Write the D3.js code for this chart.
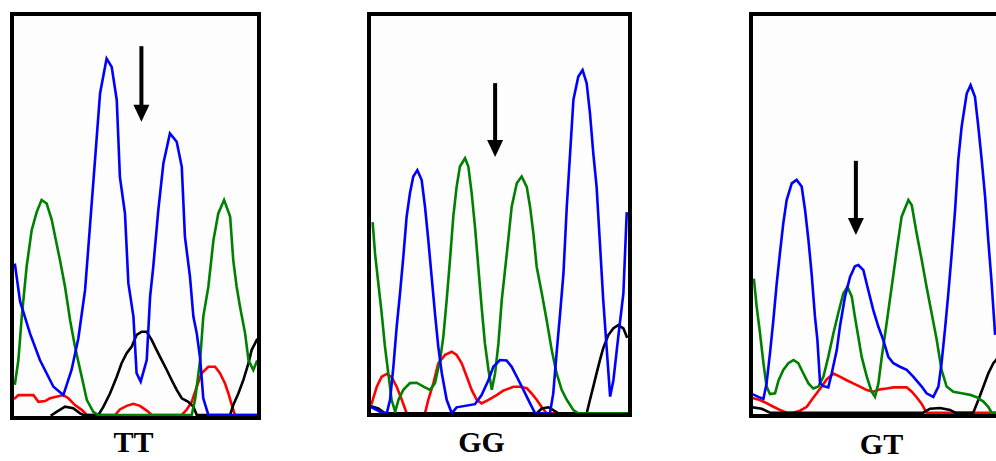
<!DOCTYPE html>
<html><head><meta charset="utf-8">
<script src="https://cdn.jsdelivr.net/npm/d3@7"></script>
<style>body{margin:0;background:#fff}svg{display:block}</style>
</head><body>
<svg id="c" width="996" height="461"></svg>
<script>
// ---- data: trace points as [scan %, signal %] ----
const genotypes = ["TT", "GG", "GT"];

const ttBlue = [[0,37.7],[2.1,28.5],[6.2,20.5],[10.3,13.8],[15.9,7.1],[20,5],[23.4,11.3],[26.2,19.2],[29,31.4],[31,47.3],[33.1,64],[35.2,80.8],[37.9,89.5],[40,87.4],[42.1,79.1],[43.4,59.8],[45.5,50.6],[46.9,33.1],[49,24.7],[50.3,10.5],[52,8.4],[54.5,13.8],[55.9,29.7],[57.2,37.2],[59.3,51.5],[61.4,63.2],[64.1,70.7],[66.9,68.6],[69,62.3],[70.3,44.8],[72.4,34.7],[73.8,24.7],[75.2,20.5],[76.6,14.2],[77.9,4.2],[80,0],[100,0]];
const ttGreen = [[0,7.9],[1.4,13.8],[2.8,24.7],[4.8,37.2],[6.9,46.4],[9,51],[11,54],[13.1,53.1],[15.2,49],[16.6,44.8],[18.6,38.9],[20.7,32.2],[22.8,23.8],[24.8,17.2],[27.6,9.6],[29.7,3.8],[32.4,0.8],[34.5,0],[73.1,0],[74.5,3.8],[76.6,13.8],[77.9,24.7],[80,32.2],[82.1,43.9],[84.1,50.6],[86.5,54],[89,49.8],[90.3,38.9],[91.7,32.2],[93.1,27.2],[95.2,20.5],[96.6,13.8],[98.6,11.3],[100,13.4]];
const ttBlack = [[15.2,0],[17.2,0.8],[20.7,2.1],[24.1,1.7],[26.9,0.4],[28.3,0],[34.5,0],[36.6,2.1],[39.3,5.4],[42.1,9.6],[44.1,13],[46.2,15.5],[48.3,17.2],[50.3,20.1],[52.4,20.9],[54.5,20.9],[56.6,18.8],[58.6,16.3],[60.7,13.8],[62.8,11.3],[64.8,8.8],[66.9,6.3],[69,4.2],[71.7,3.3],[73.8,2.1],[75.2,0],[89,0],[90.3,2.5],[92.4,5.4],[94.5,8.8],[96.6,13],[97.9,16.3],[100,18.8]];
const ttRed = [[0,4.2],[1.4,5],[7.6,5],[9.7,3.3],[12.4,3.5],[14.5,4.2],[20,5],[22.1,4.2],[24.8,2.5],[27.6,1.3],[29.7,0],[41.4,0],[43.4,1.4],[46.2,2.3],[49,2.8],[51.7,2.3],[54.5,1.1],[56.6,0],[69,0],[71,1.3],[73.1,3.3],[75.2,7.1],[77.2,10.5],[80,12.1],[82.8,12.1],[84.8,10.5],[86.9,7.9],[88.3,5.4],[89.7,2.5],[91,0],[100,0]];

const ggBlue = [[0,1.5],[3.3,0.4],[5.9,0],[7.2,3.4],[8.5,11.7],[9.8,21.8],[11.1,30.2],[12.4,39.4],[13.7,49.5],[15,55.4],[16.3,59.6],[17.9,61.2],[19.6,58.7],[20.9,52],[22.2,43.6],[23.5,34.4],[24.8,25.2],[26.1,16.8],[27.5,10.1],[29.4,3.4],[31.4,0],[33.3,1.5],[40.5,2.3],[43.1,4.6],[45.8,8.4],[47.7,11.7],[50.3,13.4],[52.9,13.3],[54.9,11.7],[56.9,9.2],[59.5,5.9],[62.1,2.5],[64.1,0],[69.9,0],[71.2,5],[72.5,15.1],[73.9,25.2],[75.2,35.2],[76.5,52],[77.8,65.4],[79.1,78.9],[81,84.7],[82.7,86.4],[84.3,83.1],[85.6,75.5],[86.9,65.4],[88.2,57],[89.5,42.8],[90.8,28.5],[92.2,15.9],[93.5,4.2],[94.8,8.4],[96.7,19.3],[98.7,30.2],[100,50.3]];
const ggGreen = [[0.4,47.8],[1.3,40.3],[2.6,32.7],[3.9,25.2],[5.2,16.8],[6.5,10.1],[7.8,3.4],[9.2,0.4],[10.5,3.4],[12.4,5.9],[15,7.6],[17.6,7.7],[20.3,6.7],[22.9,5.9],[24.8,7.6],[26.8,13.4],[28.1,19.3],[29.4,28.5],[30.7,38.6],[32,49.5],[33.3,57],[34.6,62.1],[36.6,64.2],[37.9,62.1],[39.2,55.4],[40.5,47],[41.8,36.9],[43.1,26.8],[44.4,17.6],[45.8,10.9],[47.1,5.9],[48.4,10.1],[49.7,17.6],[51,28.5],[53,40.3],[54.9,52],[56.9,57.9],[58.8,59.6],[60.8,57],[62.1,52],[63.4,45.3],[64.7,36.9],[66.7,30.2],[68.6,23.5],[70.6,15.9],[72.5,10.1],[74.5,5.9],[76.5,3.4],[79.1,0.8],[81,0],[100,0]];
const ggBlack = [[0,1.7],[2.6,1.2],[5.2,0],[64.7,0],[66.7,1.2],[69.3,1.5],[71.2,0.8],[73.2,0],[84.3,0],[85.6,3.4],[86.9,6.7],[88.2,10.1],[89.5,13.4],[90.8,16.4],[92.8,19.7],[94.8,21.4],[96.7,22.2],[98.7,21.4],[100,19.3]];
const ggRed = [[0,2.5],[2,6.7],[3.9,9.2],[5.9,9.9],[7.8,9.1],[9.8,6.7],[11.8,3.4],[13.7,0],[20.9,0],[22.2,3.4],[24.2,7.6],[26.1,12.6],[28.8,14.7],[31.4,15.5],[33.3,14.7],[35.3,12.6],[37.3,9.2],[39.2,5.9],[41.2,3.4],[43.1,2.5],[45.8,3.4],[49,4.6],[51.6,5.7],[55.6,6.7],[58.2,6.7],[60.8,6.3],[62.7,5],[64.7,3.4],[66.7,1.5],[68.6,0],[100,0]];

const gtBlue = [[0,4.5],[1.8,4],[3.9,3.5],[5.2,7.4],[6.6,15],[8,23.4],[9.4,32.7],[10.7,40.2],[12.1,47.8],[13.5,53.7],[15.6,57.9],[17.6,58.8],[19.7,57.1],[21.1,51.2],[22.5,43.6],[23.8,35.2],[25.2,24.2],[26.2,18.4],[27.3,7.4],[28.7,6.7],[30.7,6.4],[32.1,9.9],[34.2,15.8],[35.5,21.7],[37.6,29.3],[39.7,34.3],[41.7,37],[43.1,37.3],[45.2,36],[47.2,31],[49.3,25.9],[51.4,21.7],[53.4,18.4],[55.5,14.1],[57.6,12.5],[60.3,11.6],[63.1,10.8],[65.8,9.1],[69.3,6.6],[71.3,4.9],[74.1,4],[76.2,6.6],[77.5,12.5],[78.9,20.9],[80.3,30.1],[81.7,40.2],[83.1,51.2],[84.4,63.8],[85.8,72.2],[87.9,80.6],[89.5,82.7],[91.3,79.8],[92.7,72.2],[94.1,63.8],[95.5,54.5],[96.8,43.6],[98.2,32.7],[99.6,20]];
const gtGreen = [[0,33.5],[1.1,26.8],[2.5,20],[3.9,12.5],[5.2,6.6],[6.6,4.7],[8.7,4.9],[10.1,8.1],[12.1,10.8],[14.2,12.5],[16.3,13.3],[18.3,12.5],[20.4,9.9],[22.5,7.4],[24.5,6.1],[26.6,6.6],[28.7,9.1],[30.7,14.1],[32.8,20],[34.8,25.1],[36.9,30.1],[38.6,31.8],[40.4,29.3],[41.7,24.2],[43.1,19.2],[44.5,14.1],[46.6,9.1],[48.6,5.3],[50,4],[51.4,7.4],[52.8,14.1],[54.8,22.6],[56.9,31.8],[59,41.1],[61,49.5],[63.8,53.7],[65.2,52.4],[67.2,45.3],[69.3,38.6],[71.3,31.8],[73.4,25.1],[75.5,18.4],[77.5,10.8],[79.6,6.6],[82.4,5.3],[85.8,4.9],[89.3,4.5],[92,3.9],[94.8,2.8],[96.8,1.5],[98.2,0],[100,0]];
const gtBlack = [[0,1.3],[3.2,1],[6.6,0],[70,0],[72.7,1],[76.9,1.2],[81,0.7],[83.1,0],[90.6,0],[92.7,3.2],[94.8,6.6],[96.8,9.9],[98.9,12.5],[100,13.3]];
const gtRed = [[0,3.6],[2.5,3.2],[5.2,2.4],[8,1.5],[10.7,0.7],[13.5,0],[16.3,0],[19,0.5],[21.8,1.5],[23.8,3.2],[25.9,4.9],[28,6.6],[30,8.4],[32.8,9.9],[35.5,9.1],[38.3,8.2],[41,7.4],[43.8,6.6],[46.6,5.7],[49.3,5.3],[52.1,5.9],[54.8,6.1],[57.6,6.4],[63.1,6.4],[65.2,5.3],[67.2,3.9],[69.3,2.2],[71.3,0],[100,0]];

// arrow marking the SNP position: [scan %, top signal %, tip signal %]
const arrowScan = [52.3, 48.4, 42.1];
const arrowTop  = [92.6, 83.1, 63.6];
const arrowTip  = [73.6, 64.5, 44.9];

const traces = [
  {red: ttRed, black: ttBlack, green: ttGreen, blue: ttBlue},
  {red: ggRed, black: ggBlack, green: ggGreen, blue: ggBlue},
  {red: gtRed, black: gtBlack, green: gtGreen, blue: gtBlue}
];

// ---- layout ----
const boxes = [
  {x0: 12, x1: 259, y0: 14, y1: 418, ix0: 15, ix1: 256.7, iy0: 16.7, iy1: 415, lx: 133.5, ly: 452},
  {x0: 369, x1: 630, y0: 14, y1: 415, ix0: 371.7, ix1: 626.7, iy0: 16, iy1: 413.3, lx: 481.5, ly: 452},
  {x0: 751, x1: 1002, y0: 14, y1: 416, ix0: 754, ix1: 996, iy0: 16.7, iy1: 412.7, lx: 881.5, ly: 454}
];
const colors = {red: "#ff0000", black: "#000000", green: "#008000", blue: "#0000ff"};
const order = ["red", "black", "green", "blue"];

const svg = d3.select("#c");
const defs = svg.append("defs");

boxes.forEach((b, i) => {
  const x = d3.scaleLinear().domain([0, 100]).range([b.ix0, b.ix1]);
  const y = d3.scaleLinear().domain([0, 100]).range([b.iy1, b.iy0]);
  const clipId = "clip" + i;
  defs.append("clipPath").attr("id", clipId).append("rect")
    .attr("x", b.x0 + 2).attr("y", b.y0 + 2)
    .attr("width", b.x1 - b.x0 - 4).attr("height", b.y1 - b.y0 - 4);

  const g = svg.append("g");
  g.append("rect").attr("x", b.x0).attr("y", b.y0)
    .attr("width", b.x1 - b.x0).attr("height", b.y1 - b.y0)
    .attr("fill", "#fdfdfd");

  const line = d3.line().x(d => x(d[0])).y(d => y(d[1])).curve(d3.curveLinear);
  const tg = g.append("g").attr("clip-path", `url(#${clipId})`);
  order.forEach(c => {
    tg.append("path").datum(traces[i][c])
      .attr("d", line).attr("fill", "none")
      .attr("stroke", colors[c]).attr("stroke-width", 2.6)
      .attr("stroke-linejoin", "miter").attr("stroke-linecap", "square");
  });

  g.append("rect").attr("x", b.x0).attr("y", b.y0)
    .attr("width", b.x1 - b.x0).attr("height", b.y1 - b.y0)
    .attr("fill", "none").attr("stroke", "#000").attr("stroke-width", 4);

  // arrow
  const ax = x(arrowScan[i]), ay0 = y(arrowTop[i]), ay1 = y(arrowTip[i]);
  g.append("line").attr("x1", ax).attr("x2", ax).attr("y1", ay0).attr("y2", ay1 - 14)
    .attr("stroke", "#000").attr("stroke-width", 4);
  g.append("path")
    .attr("d", `M${ax - 8},${ay1 - 17} L${ax + 8},${ay1 - 17} L${ax},${ay1} Z`)
    .attr("fill", "#000");

  g.append("text").attr("x", b.lx).attr("y", b.ly)
    .attr("text-anchor", "middle")
    .attr("font-family", "'Liberation Serif', 'Times New Roman', serif")
    .attr("font-weight", "bold").attr("font-size", 30)
    .text(genotypes[i]);
});
</script>
</body></html>
